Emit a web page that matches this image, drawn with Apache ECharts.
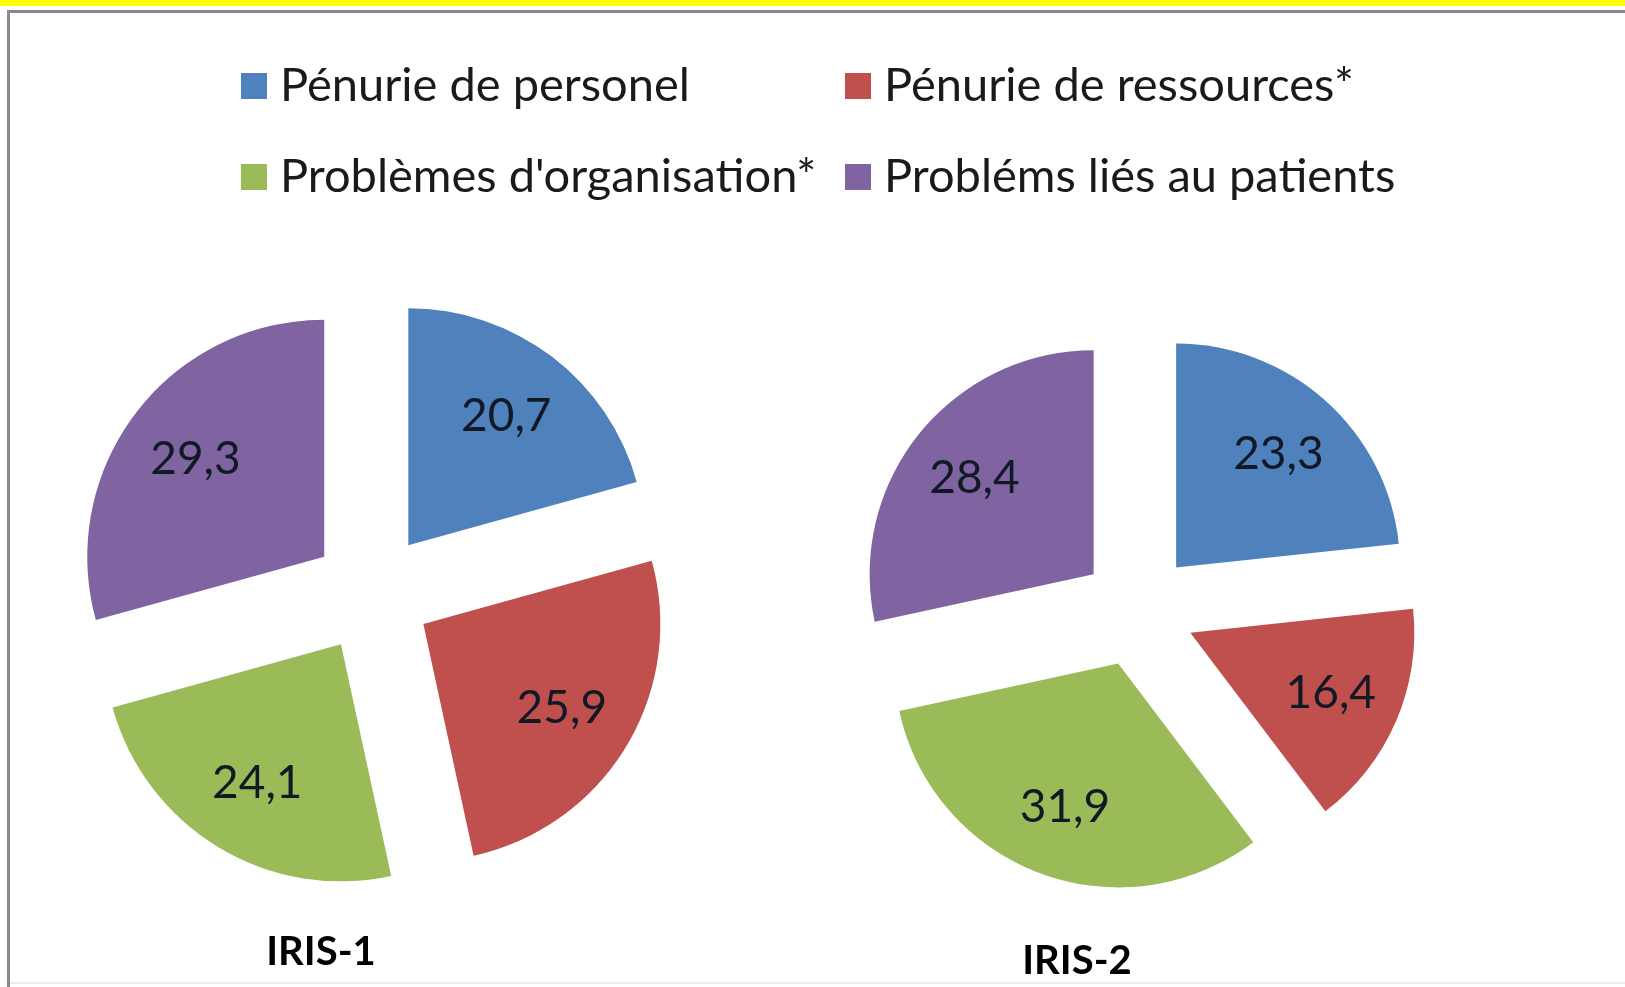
<!DOCTYPE html>
<html lang="fr">
  <head>
    <meta charset="UTF-8" />
    <title>IRIS</title>
    <script src="https://cdn.jsdelivr.net/npm/echarts@6/dist/echarts.min.js"></script>
    <style>
      body { margin: 0; background: #fff; }
    </style>
  </head>
  <body>
    <div id="main" style="width: 1625px; height: 987px"></div>
  </body>
  <script>
    // catégories et valeurs (%)
    const categories = [
      "Pénurie de personel",
      "Pénurie de ressources*",
      "Problèmes d'organisation*",
      "Probléms liés au patients",
    ];
    const colors = ["#4f81bd", "#c0504d", "#9bbb59", "#8064a2"];
    const iris1 = [20.7, 25.9, 24.1, 29.3];
    const iris2 = [23.3, 16.4, 31.9, 28.4];
    const titles = ["IRIS-1", "IRIS-2"];

    const font = "Lato, 'Open Sans', sans-serif";

    function toData(values) {
      return values.map((v, i) => ({
        name: categories[i],
        value: v,
        selected: true,
        itemStyle: { color: colors[i] },
      }));
    }

    // une série pour les secteurs, une série transparente pour placer les étiquettes
    function pieSeries(values, center, r, offset) {
      const base = {
        type: "pie",
        center: center,
        startAngle: 90,
        clockwise: true,
        selectedMode: "multiple",
        selectedOffset: offset,
        animation: false,
        silent: true,
        labelLine: { show: false },
        select: { itemStyle: { borderWidth: 0 } },
      };
      return [
        Object.assign({}, base, {
          radius: [0, r],
          data: toData(values),
          label: { show: false },
        }),
        Object.assign({}, base, {
          radius: [r * 0.34, r],
          data: toData(values).map((d) => Object.assign(d, { itemStyle: { color: "rgba(0,0,0,0)" } })),
          label: {
            show: true,
            position: "inside",
            fontFamily: font,
            fontSize: 46,
            color: "#111a24",
            formatter: (p) => String(p.value).replace(".", ","),
          },
        }),
      ];
    }

    var myChart = echarts.init(document.getElementById("main"));

    var legendCommon = {
      orient: "vertical",
      top: 61,
      padding: 0,
      icon: "rect",
      itemWidth: 26,
      itemHeight: 26,
      itemGap: 41,
      selectedMode: false,
      textStyle: {
        fontFamily: font,
        fontSize: 47,
        lineHeight: 50,
        color: "#1a1a1a",
        padding: [0, 0, 0, 8],
      },
    };

    var option = {
      backgroundColor: "#fff",
      graphic: [
        { type: "rect", shape: { x: 0, y: 0, width: 1625, height: 6 }, style: { fill: "#ffff00" } },
        { type: "line", shape: { x1: 7, y1: 11.5, x2: 1625, y2: 11.5 }, style: { stroke: "#8a8a8a", lineWidth: 3 } },
        { type: "line", shape: { x1: 8.5, y1: 10, x2: 8.5, y2: 987 }, style: { stroke: "#8a8a8a", lineWidth: 3 } },
        { type: "line", shape: { x1: 10, y1: 983, x2: 1625, y2: 983 }, style: { stroke: "#ececec", lineWidth: 2 } },
      ],
      title: [
        { text: titles[0], left: 321, top: 932, textAlign: "center" },
        { text: titles[1], left: 1077, top: 941, textAlign: "center" },
      ].map((t) =>
        Object.assign(t, {
          padding: 0,
          textStyle: { fontFamily: font, fontWeight: "bold", fontSize: 40, color: "#000" },
        })
      ),
      legend: [
        Object.assign({}, legendCommon, { left: 241, data: [categories[0], categories[2]] }),
        Object.assign({}, legendCommon, { left: 845, data: [categories[1], categories[3]] }),
      ],
      series: [
        ...pieSeries(iris1, [372, 593], 237, 60),
        ...pieSeries(iris2, [1138, 610], 224, 57),
      ],
    };

    myChart.setOption(option);
  </script>
</html>
